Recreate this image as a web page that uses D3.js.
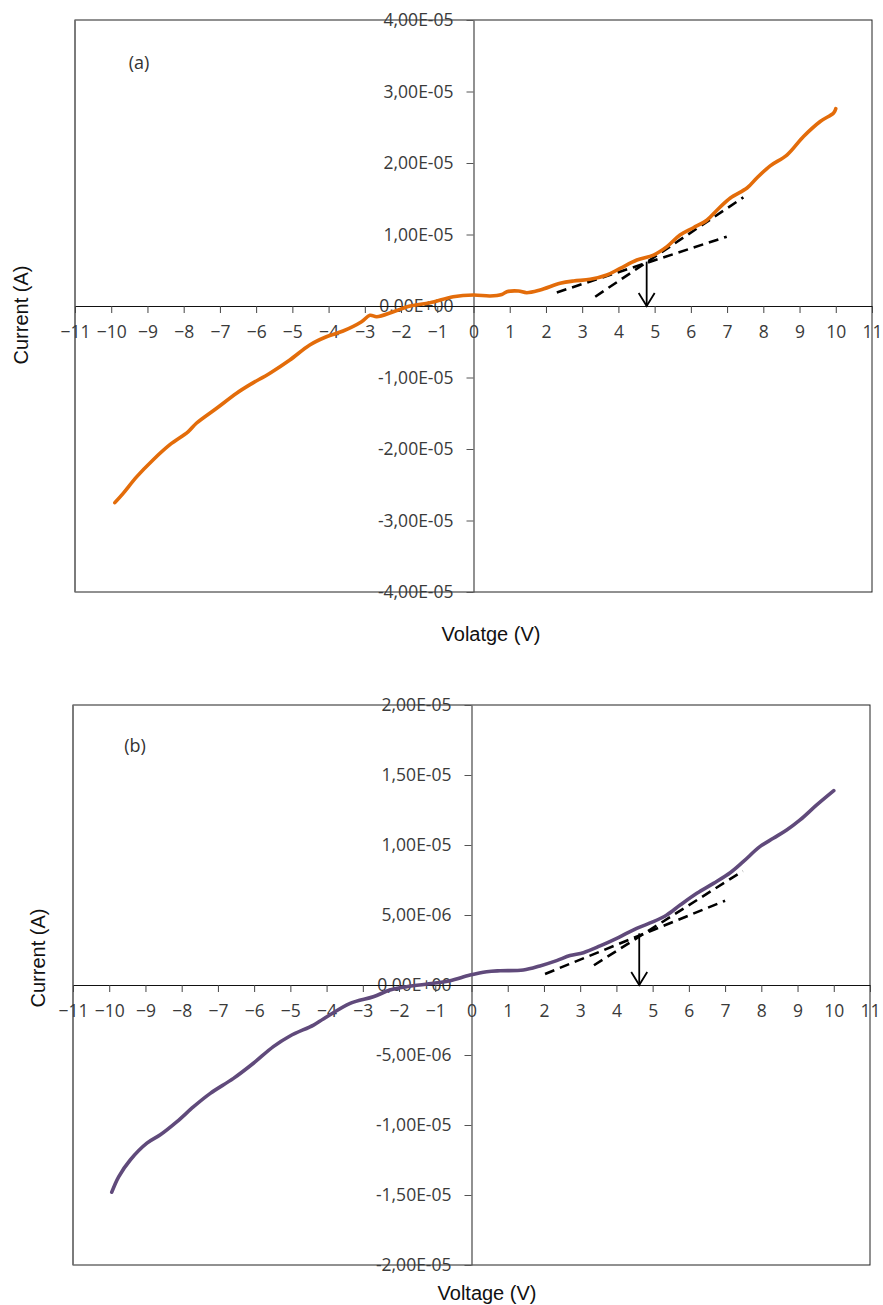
<!DOCTYPE html>
<html>
<head>
<meta charset="utf-8">
<script src="https://cdn.jsdelivr.net/npm/d3@7"></script>
<style>
  body { margin: 0; background: #fff; }
  svg { display: block; }
</style>
</head>
<body>
<svg width="883" height="1305"></svg>
<script>
// x ticks shared by both panels
var xTicks = d3.range(-11, 12);

// panel (a) - orange curve
var voltA = [-9.90, -9.67, -9.30, -8.84, -8.38, -7.88, -7.65, -7.09, -6.54, -6.17, -5.62, -5.07, -4.52, -4.06, -3.60, -3.09, -2.86, -2.67, -2.21, -1.75, -1.20, -0.56,
             0, 0.46, 0.78, 0.92, 1.24, 1.47, 1.84, 2.39, 2.76, 3.22, 3.68, 4.05, 4.51, 4.97, 5.34, 5.70, 6.07, 6.44, 6.72, 7.09, 7.55, 7.82, 8.19, 8.65, 9.11, 9.57, 9.94, 10.0];
var currA = [-2.75e-5, -2.62e-5, -2.39e-5, -2.15e-5, -1.94e-5, -1.76e-5, -1.64e-5, -1.43e-5, -1.22e-5, -1.10e-5, -0.94e-5, -0.755e-5, -0.545e-5, -0.43e-5, -0.35e-5, -0.22e-5, -0.13e-5, -0.15e-5, -0.08e-5, 0.0, 0.046e-5, 0.13e-5,
             0.154e-5, 0.14e-5, 0.16e-5, 0.20e-5, 0.21e-5, 0.186e-5, 0.224e-5, 0.317e-5, 0.35e-5, 0.373e-5, 0.434e-5, 0.527e-5, 0.643e-5, 0.713e-5, 0.83e-5, 0.993e-5, 1.095e-5, 1.20e-5, 1.34e-5, 1.51e-5, 1.65e-5, 1.79e-5, 1.96e-5, 2.11e-5, 2.37e-5, 2.58e-5, 2.70e-5, 2.76e-5];
var yTicksA = [-4e-5, -3e-5, -2e-5, -1e-5, 0, 1e-5, 2e-5, 3e-5, 4e-5];
var dashA = [
  [[2.30, 0.19e-5], [6.99, 0.97e-5]],
  [[3.36, 0.13e-5], [7.45, 1.52e-5]]
];
var arrowA = [4.78, 0.62e-5];

// panel (b) - purple curve
var voltB = [-9.93, -9.74, -9.42, -8.96, -8.59, -8.13, -7.67, -7.21, -6.57, -6.02, -5.47, -5.01, -4.36, -4.09, -3.35, -2.71, -2.25, -1.79, -1.05, -0.59,
             -0.04, 0.42, 0.79, 1.43, 1.89, 2.35, 2.72, 3.09, 3.55, 4.01, 4.56, 5.02, 5.39, 5.76, 6.22, 6.68, 7.14, 7.50, 7.96, 8.33, 8.70, 9.07, 9.53, 10.0];
var currB = [-1.48e-5, -1.37e-5, -1.25e-5, -1.13e-5, -1.07e-5, -0.976e-5, -0.869e-5, -0.774e-5, -0.667e-5, -0.559e-5, -0.44e-5, -0.364e-5, -0.286e-5, -0.243e-5, -0.131e-5, -0.084e-5, -0.036e-5, -0.012e-5, 0.012e-5, 0.031e-5,
             0.071e-5, 0.095e-5, 0.102e-5, 0.107e-5, 0.136e-5, 0.174e-5, 0.21e-5, 0.231e-5, 0.279e-5, 0.333e-5, 0.405e-5, 0.452e-5, 0.50e-5, 0.571e-5, 0.655e-5, 0.726e-5, 0.802e-5, 0.881e-5, 0.988e-5, 1.048e-5, 1.107e-5, 1.179e-5, 1.286e-5, 1.388e-5];
var yTicksB = [-2e-5, -1.5e-5, -1e-5, -5e-6, 0, 5e-6, 1e-5, 1.5e-5, 2e-5];
var dashB = [
  [[2.03, 0.79e-6], [7.00, 6.02e-6]],
  [[3.38, 1.41e-6], [7.49, 8.14e-6]]
];
var arrowB = [4.63, 3.69e-6];

// "4,00E-05" style labels
function sciComma(v) {
  var s = v.toExponential(2);          // e.g. "-1.50e-5"
  var parts = s.split("e");
  var exp = +parts[1];
  var e = (exp < 0 ? "-" : "+") + (Math.abs(exp) < 10 ? "0" : "") + Math.abs(exp);
  return parts[0].replace(".", ",") + "E" + e;
}

var svg = d3.select("svg");

function panel(opt) {
  var x = d3.scaleLinear().domain([-11, 11]).range([opt.left, opt.right]);
  var y = d3.scaleLinear().domain(opt.yDomain).range([opt.bottom, opt.top]);
  var g = svg.append("g");

  // frame
  g.append("rect")
      .attr("x", opt.left).attr("y", opt.top)
      .attr("width", opt.right - opt.left).attr("height", opt.bottom - opt.top)
      .attr("fill", "none").attr("stroke", "#222").attr("stroke-width", 1);
  g.append("line")
      .attr("x1", opt.left).attr("x2", opt.left).attr("y1", opt.top).attr("y2", opt.bottom)
      .attr("stroke", "#777").attr("stroke-width", 1.6);

  // y axis through 0 V
  var ya = g.append("g")
      .attr("transform", "translate(" + x(0) + ",0)")
      .call(d3.axisLeft(y).tickValues(opt.yTicks).tickFormat(sciComma)
            .tickSize(7).tickSizeOuter(0).tickPadding(13));
  ya.select(".domain").attr("stroke", "#555").attr("stroke-width", 1.3);
  ya.selectAll(".tick line").attr("stroke", "#555");
  ya.selectAll("text")
      .attr("fill", "#3a3a3a")
      .style("font-family", "'Open Sans', sans-serif")
      .style("font-size", "17.5px");

  // x axis along 0 A
  var xa = g.append("g")
      .attr("transform", "translate(0," + y(0) + ")")
      .call(d3.axisBottom(x).tickValues(xTicks).tickSize(7).tickSizeOuter(0).tickPadding(13));
  xa.select(".domain").attr("stroke", "#111").attr("stroke-width", 1.2);
  xa.selectAll(".tick line").attr("stroke", "#444");
  xa.selectAll("text")
      .attr("fill", "#3a3a3a")
      .style("font-family", "'Open Sans', sans-serif")
      .style("font-size", "17.5px");

  // tangent lines
  var tl = d3.line().x(function(d) { return x(d[0]); }).y(function(d) { return y(d[1]); });
  opt.dash.forEach(function(seg) {
    g.append("path")
        .attr("d", tl(seg))
        .attr("fill", "none")
        .attr("stroke", "#000")
        .attr("stroke-width", 2.6)
        .attr("stroke-dasharray", "10,6");
  });

  // curve
  var line = d3.line()
      .x(function(d, i) { return x(opt.volt[i]); })
      .y(function(d) { return y(d); })
      .curve(d3.curveCatmullRom);
  g.append("path")
      .datum(opt.curr)
      .attr("fill", "none")
      .attr("stroke", opt.color)
      .attr("stroke-width", 3.6)
      .attr("stroke-linejoin", "round")
      .attr("stroke-linecap", "round")
      .attr("d", line);

  // arrow down to the axis
  var ax = x(opt.arrow[0]), ay0 = y(opt.arrow[1]), ay1 = y(0);
  g.append("line")
      .attr("x1", ax).attr("x2", ax).attr("y1", ay0).attr("y2", ay1)
      .attr("stroke", "#000").attr("stroke-width", 1.8);
  g.append("path")
      .attr("d", "M" + (ax - 8) + "," + (ay1 - 13) + "L" + ax + "," + ay1 + "L" + (ax + 8) + "," + (ay1 - 13))
      .attr("fill", "none").attr("stroke", "#000").attr("stroke-width", 1.8);

  // labels
  g.append("text")
      .attr("x", opt.tag[0]).attr("y", opt.tag[1])
      .attr("text-anchor", "middle")
      .attr("fill", "#333")
      .style("font-family", "'Open Sans', sans-serif")
      .style("font-size", "18px")
      .text(opt.tagText);
  g.append("text")
      .attr("transform", "translate(" + opt.yLab[0] + "," + opt.yLab[1] + ") rotate(-90)")
      .attr("text-anchor", "middle")
      .attr("dy", "0.35em")
      .attr("fill", "#111")
      .style("font-family", "'Liberation Sans', Arial, sans-serif")
      .style("font-size", "20px")
      .text("Current (A)");
  g.append("text")
      .attr("x", opt.xLab[0]).attr("y", opt.xLab[1])
      .attr("text-anchor", "middle")
      .attr("dy", "0.35em")
      .attr("fill", "#111")
      .style("font-family", "'Liberation Sans', Arial, sans-serif")
      .style("font-size", "20px")
      .text(opt.xLabText);
}

panel({
  left: 75, right: 872, top: 20, bottom: 592,
  yDomain: [-4e-5, 4e-5], yTicks: yTicksA,
  volt: voltA, curr: currA, color: "#E36C0A",
  dash: dashA, arrow: arrowA,
  tag: [139, 69], tagText: "(a)",
  yLab: [21, 315], xLab: [491, 634], xLabText: "Volatge (V)"
});

panel({
  left: 73, right: 870, top: 705, bottom: 1265,
  yDomain: [-2e-5, 2e-5], yTicks: yTicksB,
  volt: voltB, curr: currB, color: "#604A7B",
  dash: dashB, arrow: arrowB,
  tag: [135, 752], tagText: "(b)",
  yLab: [38, 958], xLab: [487, 1293], xLabText: "Voltage (V)"
});
</script>
</body>
</html>
